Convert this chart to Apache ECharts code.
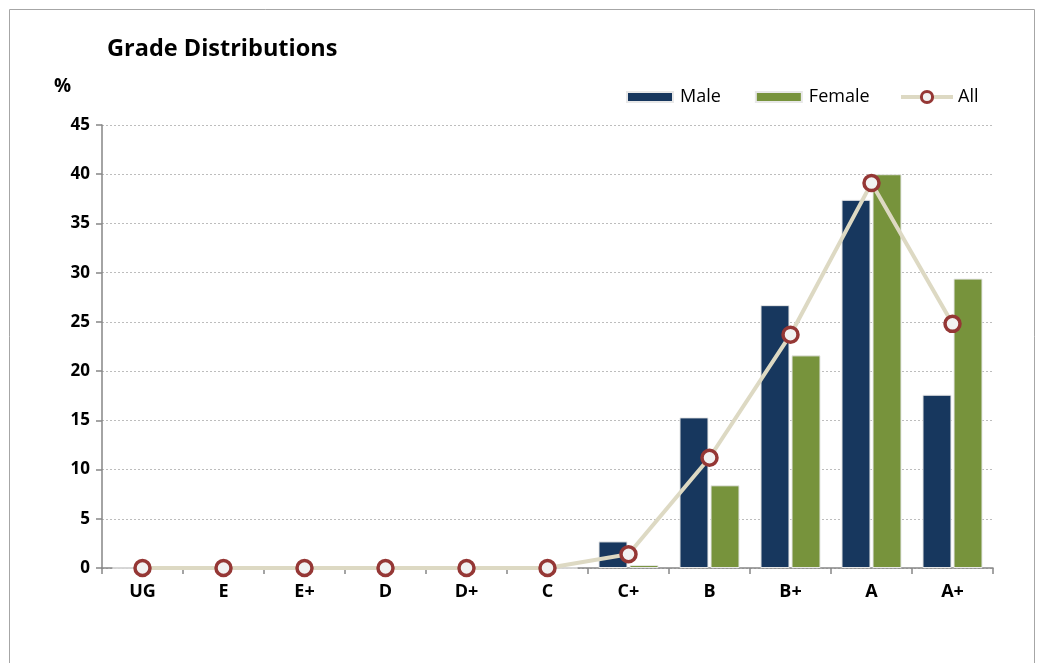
<!DOCTYPE html>
<html><head><meta charset="utf-8">
<script src="https://cdn.jsdelivr.net/npm/echarts@6/dist/echarts.min.js"></script>
<style>html,body{margin:0;padding:0;background:#fff}#c{width:1044px;height:663px}</style>
</head><body><div id="c"></div>
<script>
const categories = ['UG','E','E+','D','D+','C','C+','B','B+','A','A+'];
const male   = [0,0,0,0,0,0,2.7,15.3,26.7,37.4,17.6];
const female = [0,0,0,0,0,0,0.3,8.4,21.6,40.0,29.4];
const all    = [0,0,0,0,0,0,1.4,11.2,23.7,39.1,24.8];
const yTicks = {min:0,max:45,interval:5};
const FONT = '"Open Sans", "Liberation Sans", sans-serif';

const chart = echarts.init(document.getElementById('c'), null, {renderer:'canvas'});
chart.setOption({
  backgroundColor:'#fff',
  animation:false,
  graphic:[
    {type:'rect', shape:{x:9.5,y:9.5,width:1025,height:700}, style:{fill:'none',stroke:'#a6a6a6',lineWidth:1}, silent:true},
    {type:'text', left:107, top:37, style:{text:'Grade Distributions', font:'bold 23.5px '+FONT, fill:'#000'}},
    {type:'text', left:54, top:77, style:{text:'%', font:'bold 19px '+FONT, fill:'#000'}}
  ],
  legend:[{
    left:626, top:88, padding:0, itemGap:34, itemWidth:46, itemHeight:10,
    textStyle:{fontFamily:FONT, fontSize:18, color:'#000', padding:[0,0,0,2]},
    data:[{name:'Male',icon:'rect'},{name:'Female',icon:'rect'}]
  },{
    left:899, top:88, padding:0, itemWidth:52, itemHeight:14,
    lineStyle:{width:4, color:'#ddd9c3'},
    itemStyle:{borderWidth:3, borderColor:'#953735', color:'#f2f2f2'},
    textStyle:{fontFamily:FONT, fontSize:18, color:'#000'},
    data:[{name:'All'}]
  }],
  grid:{left:102, right:51, top:125, bottom:95, containLabel:false},
  xAxis:{
    type:'category', data:categories, boundaryGap:true,
    axisLine:{lineStyle:{color:'#868686',width:1.5}},
    axisTick:{show:true, length:6, lineStyle:{color:'#868686',width:1.5}},
    axisLabel:{fontFamily:FONT, fontWeight:'bold', fontSize:18, color:'#000', margin:15}
  },
  yAxis:{
    type:'value', min:yTicks.min, max:yTicks.max, interval:yTicks.interval,
    axisLine:{show:true, lineStyle:{color:'#868686',width:1.5}},
    axisTick:{show:true, length:6, lineStyle:{color:'#868686',width:1.5}},
    axisLabel:{fontFamily:FONT, fontWeight:'bold', fontSize:17, color:'#000', margin:12},
    splitLine:{show:true, lineStyle:{color:'#bdbdbd', type:[2,2], width:1}}
  },
  series:[
    {name:'Male', type:'bar', data:male, barWidth:29, barGap:'7%',
     itemStyle:{color:'#17375e', borderColor:'#e8e8e8', borderWidth:1}},
    {name:'Female', type:'bar', data:female, barWidth:29,
     itemStyle:{color:'#77933c', borderColor:'#e8e8e8', borderWidth:1}},
    {name:'All', type:'line', data:all, symbol:'circle', symbolSize:15,
     lineStyle:{color:'#ddd9c3', width:4},
     itemStyle:{color:'#f2f2f2', borderColor:'#953735', borderWidth:3.5},
     z:5}
  ]
});
</script></body></html>
